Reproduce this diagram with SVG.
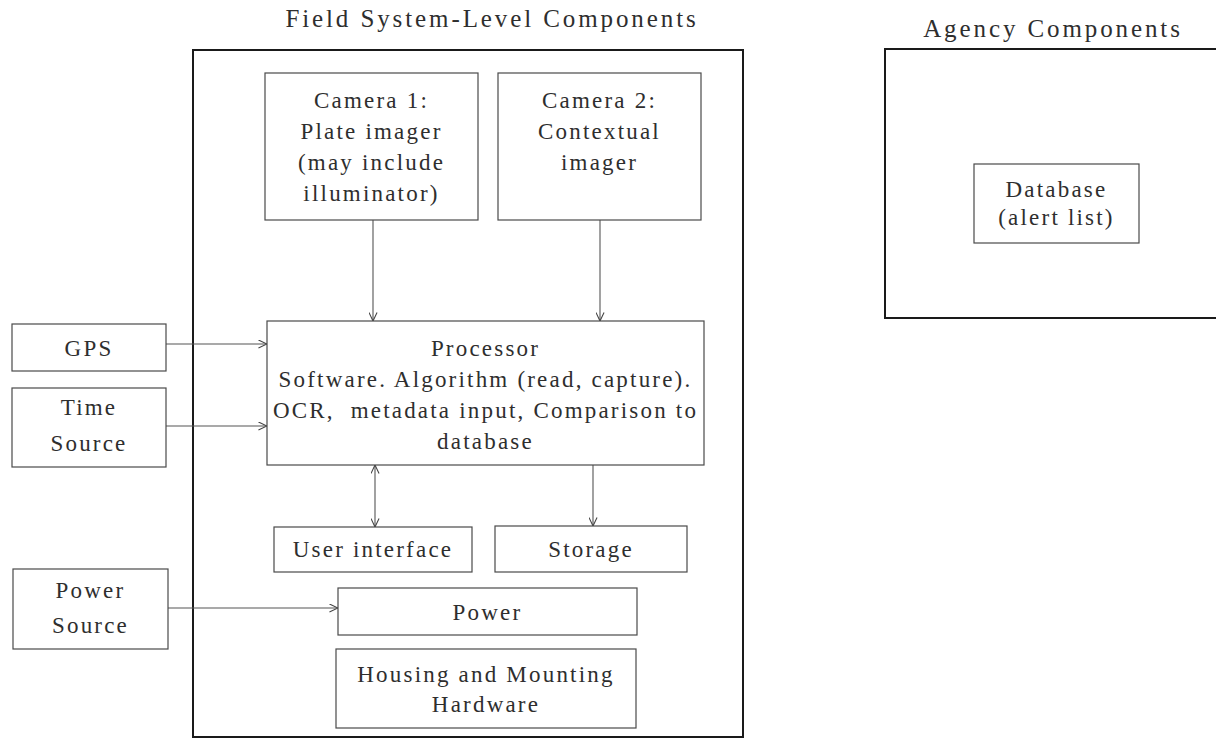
<svg xmlns="http://www.w3.org/2000/svg" width="1216" height="742" viewBox="0 0 1216 742">
<style>
  text{font-family:"Liberation Serif","Times New Roman",serif;fill:#2e2e2e;text-anchor:middle;font-size:23px;letter-spacing:2.2px}
  .title{font-size:25px;letter-spacing:2.9px}
  .outer{fill:none;stroke:#1a1a1a;stroke-width:2}
  .box{fill:#fff;stroke:#4a4a4a;stroke-width:1.2}
  .conn{fill:none;stroke:#555;stroke-width:1.1}
</style>
<defs>
  <marker id="ah" viewBox="0 0 10 10" refX="9.5" refY="5" markerWidth="9" markerHeight="9" markerUnits="userSpaceOnUse" orient="auto-start-reverse">
    <path d="M0,0.5 L9.5,5 L0,9.5" fill="none" stroke="#444" stroke-width="1.2"/>
  </marker>
</defs>
<rect width="1216" height="742" fill="#fff"/>

<g id="field-system">
  <text class="title" x="492" y="27">Field System-Level Components</text>
  <rect class="outer" x="193" y="50" width="550" height="687"/>
</g>
<g id="agency">
  <text class="title" x="1053" y="37">Agency Components</text>
  <path class="outer" d="M1218,49 H885 V318 H1218"/>
</g>

<g id="connectors">
  <line class="conn" x1="373" y1="220" x2="373" y2="321" marker-end="url(#ah)"/>
  <line class="conn" x1="600" y1="220" x2="600" y2="321" marker-end="url(#ah)"/>
  <line class="conn" x1="166" y1="344" x2="267" y2="344" marker-end="url(#ah)"/>
  <line class="conn" x1="166" y1="426" x2="267" y2="426" marker-end="url(#ah)"/>
  <line class="conn" x1="375" y1="465" x2="375" y2="527" marker-start="url(#ah)" marker-end="url(#ah)"/>
  <line class="conn" x1="593" y1="465" x2="593" y2="526" marker-end="url(#ah)"/>
  <line class="conn" x1="168" y1="608" x2="338" y2="608" marker-end="url(#ah)"/>
</g>

<g id="camera1">
  <rect class="box" x="265" y="73" width="213" height="147"/>
  <text x="371.5" y="108">Camera 1:</text>
  <text x="371.5" y="139">Plate imager</text>
  <text x="371.5" y="170">(may include</text>
  <text x="371.5" y="201">illuminator)</text>
</g>
<g id="camera2">
  <rect class="box" x="498" y="73" width="203" height="147"/>
  <text x="599.5" y="108">Camera 2:</text>
  <text x="599.5" y="139">Contextual</text>
  <text x="599.5" y="170">imager</text>
</g>
<g id="processor">
  <rect class="box" x="267" y="321" width="437" height="144"/>
  <text x="485.5" y="356">Processor</text>
  <text x="485.5" y="387">Software. Algorithm (read, capture).</text>
  <text x="485.5" y="418" xml:space="preserve">OCR,  metadata input, Comparison to</text>
  <text x="485.5" y="449">database</text>
</g>
<g id="gps">
  <rect class="box" x="12" y="324" width="154" height="47"/>
  <text x="89" y="356">GPS</text>
</g>
<g id="time-source">
  <rect class="box" x="12" y="388" width="154" height="79"/>
  <text x="89" y="415">Time</text>
  <text x="89" y="451">Source</text>
</g>
<g id="user-interface">
  <rect class="box" x="274" y="527" width="198" height="45"/>
  <text x="373" y="557">User interface</text>
</g>
<g id="storage">
  <rect class="box" x="495" y="526" width="192" height="46"/>
  <text x="591" y="557">Storage</text>
</g>
<g id="power-source">
  <rect class="box" x="13" y="569" width="155" height="80"/>
  <text x="90.5" y="598">Power</text>
  <text x="90.5" y="633">Source</text>
</g>
<g id="power">
  <rect class="box" x="338" y="588" width="299" height="47"/>
  <text x="487.5" y="620">Power</text>
</g>
<g id="housing">
  <rect class="box" x="336" y="649" width="300" height="79"/>
  <text x="486" y="682">Housing and Mounting</text>
  <text x="486" y="712">Hardware</text>
</g>
<g id="database">
  <rect class="box" x="974" y="164" width="165" height="79"/>
  <text x="1056.5" y="197">Database</text>
  <text x="1056.5" y="225">(alert list)</text>
</g>
</svg>
